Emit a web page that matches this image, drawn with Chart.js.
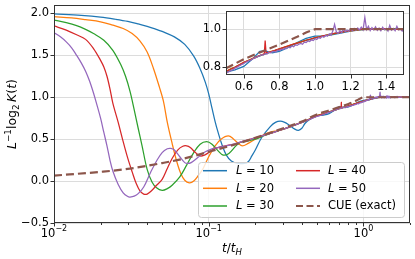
<!DOCTYPE html>
<html>
<head>
<meta charset="utf-8">
<script src="https://cdn.jsdelivr.net/npm/chart.js@4.4.1/dist/chart.umd.min.js"></script>
<style>
html,body{margin:0;padding:0;background:#fff;}
#wrap{position:relative;width:415px;height:259px;}
#main{position:absolute;left:0;top:0;}
#inset{position:absolute;left:190px;top:0;}
</style>
</head>
<body>
<div id="wrap">
<canvas id="main" width="415" height="259"></canvas>
<canvas id="inset" width="225" height="100"></canvas>
</div>
<script>
// ---------- data: [t/t_H, L^-1 log2 K(t)] ----------
const L10 = [
[0.01,1.993],[0.015,1.975],[0.02,1.955],[0.025,1.93],[0.03,1.905],[0.035,1.875],[0.04,1.845],[0.045,1.815],
[0.05,1.785],[0.06,1.72],[0.07,1.63],[0.08,1.49],[0.088,1.34],[0.095,1.18],[0.1,1.04],[0.105,0.87],
[0.11,0.71],[0.115,0.58],[0.122,0.43],[0.13,0.31],[0.14,0.24],[0.155,0.21],[0.17,0.21],[0.18,0.23],
[0.19,0.30],[0.2,0.37],[0.22,0.52],[0.25,0.65],[0.27,0.70],[0.29,0.715],[0.31,0.70],[0.33,0.67],
[0.36,0.62],[0.38,0.605],[0.40,0.63],[0.42,0.69],[0.45,0.735],[0.5,0.775],[0.55,0.787],[0.6,0.805],
[0.65,0.845],[0.69,0.884],[0.72,0.886],[0.76,0.876],[0.8,0.884],[0.85,0.904],[0.9,0.93],[0.95,0.952],
[1.0,0.963],[1.05,0.965],[1.1,0.971],[1.15,0.981],[1.2,0.99],[1.25,0.996],[1.3,1.0],[1.4,1.001],
[1.5,1.0],[2.0,1.0]
];
const L20 = [
[0.01,1.96],[0.013,1.945],[0.016,1.925],[0.02,1.90],[0.024,1.86],[0.028,1.82],[0.032,1.76],[0.036,1.67],
[0.04,1.54],[0.044,1.34],[0.048,1.12],[0.051,0.95],[0.054,0.70],[0.058,0.45],[0.062,0.24],[0.066,0.09],
[0.07,0.01],[0.075,-0.02],[0.08,0.00],[0.086,0.07],[0.092,0.15],[0.1,0.29],[0.11,0.42],[0.12,0.50],
[0.134,0.54],[0.145,0.50],[0.155,0.45],[0.165,0.42],[0.18,0.45],[0.2,0.50],[0.22,0.54],[0.25,0.585],
[0.28,0.60],[0.3,0.615],[0.35,0.66],[0.4,0.70],[0.45,0.74],[0.5,0.778],
[0.525,0.792],[0.55,0.802],[0.575,0.814],[0.6,0.826],[0.625,0.836],[0.65,0.847],[0.675,0.856],[0.7,0.866],
[0.725,0.874],[0.75,0.882],[0.775,0.889],[0.8,0.897],[0.825,0.905],[0.85,0.912],[0.875,0.92],[0.9,0.928],
[0.925,0.935],[0.95,0.942],[0.975,0.948],[1.0,0.955],[1.025,0.96],[1.05,0.965],[1.075,0.97],[1.1,0.975],
[1.125,0.979],[1.15,0.984],[1.175,0.988],[1.2,0.991],[1.225,0.994],[1.25,0.997],[1.275,0.999],[1.3,1.0],
[1.35,1.001],[1.4,0.999],[1.45,1.001],[1.5,1.0],[1.75,1.0],[2.0,1.0]
];
const L30 = [
[0.01,1.92],[0.012,1.89],[0.014,1.855],[0.016,1.81],[0.018,1.76],[0.021,1.68],[0.024,1.56],[0.027,1.39],
[0.029,1.25],[0.031,1.07],[0.033,0.85],[0.035,0.63],[0.037,0.43],[0.04,0.14],[0.043,-0.01],[0.046,-0.08],
[0.05,-0.11],[0.054,-0.09],[0.058,-0.05],[0.065,0.05],[0.072,0.19],[0.08,0.34],[0.088,0.44],[0.097,0.47],
[0.105,0.44],[0.115,0.36],[0.124,0.31],[0.135,0.33],[0.15,0.42],[0.16,0.46],[0.18,0.48],[0.2,0.50],
[0.22,0.53],[0.25,0.57],[0.3,0.615],[0.35,0.66],[0.4,0.70],[0.45,0.74],[0.5,0.777],
[0.525,0.79],[0.55,0.80],[0.575,0.812],[0.6,0.824],[0.625,0.835],[0.65,0.845],[0.675,0.855],[0.7,0.864],
[0.725,0.872],[0.75,0.88],[0.775,0.888],[0.8,0.896],[0.825,0.904],[0.85,0.911],[0.875,0.919],[0.9,0.927],
[0.925,0.934],[0.95,0.941],[0.975,0.947],[1.0,0.954],[1.025,0.96],[1.05,0.965],[1.075,0.97],[1.1,0.975],
[1.125,0.98],[1.15,0.985],[1.175,0.989],[1.2,0.992],[1.25,0.997],[1.3,1.0],[1.35,1.002],[1.4,0.998],
[1.45,1.003],[1.5,1.0],[2.0,1.0]
];
const L40 = [
[0.01,1.85],[0.012,1.80],[0.014,1.745],[0.016,1.69],[0.018,1.58],[0.02,1.44],[0.021,1.36],[0.022,1.25],
[0.023,1.10],[0.024,0.93],[0.026,0.70],[0.028,0.47],[0.03,0.27],[0.032,0.11],[0.034,-0.03],[0.036,-0.12],
[0.038,-0.155],[0.04,-0.155],[0.043,-0.11],[0.046,-0.05],[0.05,0.02],[0.054,0.15],[0.058,0.27],[0.063,0.37],
[0.068,0.415],[0.072,0.42],[0.076,0.40],[0.082,0.34],[0.088,0.30],[0.094,0.31],[0.1,0.34],[0.11,0.39],
[0.12,0.41],[0.135,0.43],[0.15,0.445],[0.17,0.48],[0.2,0.515],[0.25,0.57],[0.3,0.615],[0.35,0.66],
[0.4,0.70],[0.45,0.74],[0.5,0.778],
[0.525,0.79],[0.55,0.80],[0.575,0.813],[0.6,0.826],[0.625,0.836],[0.65,0.846],[0.675,0.856],[0.7,0.866],
[0.715,0.87],[0.72,0.94],[0.725,0.875],[0.75,0.881],[0.775,0.889],[0.8,0.897],[0.825,0.905],[0.85,0.912],
[0.875,0.92],[0.9,0.927],[0.925,0.934],[0.95,0.942],[0.975,0.948],[1.0,0.955],[1.025,0.96],[1.05,0.966],
[1.075,0.97],[1.1,0.976],[1.125,0.98],[1.15,0.985],[1.175,0.99],[1.2,0.992],[1.225,0.996],[1.25,0.998],
[1.275,1.0],[1.3,1.002],[1.35,1.0],[1.4,1.003],[1.45,0.999],[1.5,1.001],[1.75,1.0],[2.0,1.0]
];
const L50 = [
[0.01,1.77],[0.011,1.72],[0.012,1.66],[0.013,1.59],[0.014,1.50],[0.015,1.41],[0.016,1.31],[0.017,1.19],
[0.018,1.05],[0.019,0.90],[0.02,0.75],[0.021,0.58],[0.022,0.42],[0.023,0.25],[0.024,0.12],[0.026,-0.04],
[0.028,-0.14],[0.03,-0.185],[0.031,-0.19],[0.033,-0.18],[0.035,-0.15],[0.038,-0.07],[0.042,0.10],[0.046,0.24],
[0.05,0.34],[0.054,0.385],[0.057,0.39],[0.06,0.37],[0.065,0.29],[0.07,0.22],[0.073,0.21],[0.077,0.22],
[0.085,0.28],[0.095,0.35],[0.105,0.385],[0.115,0.40],[0.13,0.42],[0.15,0.45],[0.17,0.48],[0.2,0.515],
[0.25,0.57],[0.3,0.615],[0.35,0.66],[0.4,0.70],[0.45,0.737],
[0.50,0.770],[0.51,0.775],[0.52,0.779],[0.53,0.785],[0.54,0.788],[0.55,0.796],[0.56,0.800],[0.57,0.806],
[0.58,0.810],[0.59,0.816],[0.60,0.820],[0.61,0.827],[0.62,0.830],[0.63,0.836],[0.64,0.838],[0.65,0.845],
[0.66,0.848],[0.67,0.852],[0.68,0.858],[0.69,0.860],[0.70,0.866],[0.71,0.864],[0.72,0.872],[0.73,0.870],
[0.74,0.878],[0.75,0.876],[0.76,0.882],[0.77,0.884],[0.78,0.880],[0.79,0.890],[0.80,0.888],[0.81,0.895],
[0.82,0.893],[0.83,0.900],[0.84,0.898],[0.85,0.906],[0.86,0.903],[0.87,0.912],[0.88,0.908],[0.89,0.918],
[0.90,0.915],[0.91,0.922],[0.92,0.925],[0.93,0.921],[0.94,0.932],[0.95,0.930],[0.96,0.938],[0.97,0.935],
[0.98,0.944],[0.99,0.940],[1.00,0.950],[1.01,0.946],[1.02,0.956],[1.03,0.952],[1.04,0.962],[1.05,0.958],
[1.06,0.968],[1.07,0.963],[1.08,0.975],[1.09,0.968],[1.10,0.990],[1.11,1.025],[1.12,0.985],[1.13,0.978],
[1.14,0.992],[1.15,0.982],[1.16,1.000],[1.17,0.986],[1.18,0.995],[1.19,0.988],[1.20,1.002],[1.21,0.992],
[1.22,1.004],[1.23,0.994],[1.24,1.006],[1.25,0.996],[1.26,1.010],[1.27,0.996],[1.28,1.062],[1.29,0.998],
[1.30,1.015],[1.31,0.992],[1.32,1.008],[1.33,0.996],[1.34,1.012],[1.35,0.994],[1.36,1.006],[1.37,0.992],
[1.38,1.010],[1.39,0.996],[1.40,1.004],[1.41,0.990],[1.42,1.020],[1.43,0.995],[1.44,1.004],[1.45,0.992],
[1.46,1.015],[1.47,0.996],[1.48,1.002],[1.49,0.990],[1.50,0.998],[1.55,1.005],[1.6,0.995],[1.65,1.01],
[1.7,0.998],[1.75,1.004],[1.8,0.996],[1.85,1.008],[1.9,0.998],[1.95,1.003],[2.0,1.0]
];
const CUE = [
[0.01,0.065],[0.02,0.11],[0.03,0.145],[0.05,0.215],[0.07,0.27],[0.1,0.35],[0.15,0.44],[0.2,0.515],
[0.3,0.627],[0.4,0.71],[0.5,0.795],[0.6,0.843],[0.7,0.882],[0.8,0.92],[0.9,0.96],[0.95,0.982],
[1.0,1.0],[1.5,1.0],[2.0,1.0]
];
const seriesNames = ['L = 10','L = 20','L = 30','L = 40','L = 50','CUE (exact)'];
const seriesColors = ['#1f77b4','#ff7f0e','#2ca02c','#d62728','#9467bd','#8c564b'];
const yTicks = [-0.5, 0, 0.5, 1.0, 1.5, 2.0];
const xMajorTicks = [0.01, 0.1, 1];
const xMajorExp = ['\u22122', '\u22121', '0'];
const xMinorTicks = [0.02,0.03,0.04,0.05,0.06,0.07,0.08,0.09,0.2,0.3,0.4,0.5,0.6,0.7,0.8,0.9,2];
const insetXTicks = [0.6, 0.8, 1.0, 1.2, 1.4];
const insetYTicks = [0.8, 1.0];

const FONT = "'DejaVu Sans', sans-serif";
const allSeries = [L10, L20, L30, L40, L50, CUE];

function makeDatasets(inset) {
  return allSeries.map((s, i) => {
    const isCue = i === 5;
    return {
      label: seriesNames[i],
      data: s.map(p => ({x: p[0], y: p[1]})),
      borderColor: seriesColors[i],
      borderWidth: isCue ? 2.2 : 1.25,
      borderDash: isCue ? [8, 4] : [],
      pointRadius: 0,
      fill: false,
      cubicInterpolationMode: (inset || !isCue) ? 'default' : 'monotone',
      tension: inset ? 0 : 0.35,
      order: 5 - i
    };
  });
}
function zeroPad(s) { s.paddingTop = 0; s.paddingBottom = 0; s.paddingLeft = 0; s.paddingRight = 0; }

const fmt = v => (v < 0 ? '\u2212' : '') + Math.abs(v).toFixed(1);

// ---------- main chart ----------
const mainPlugin = {
  id: 'mainDecor',
  beforeDraw(chart) {
    const c = chart.ctx; c.save(); c.fillStyle = '#fff'; c.fillRect(0, 0, chart.width, chart.height); c.restore();
  },
  afterDraw(chart) {
    const c = chart.ctx, a = chart.chartArea, xs = chart.scales.x, ys = chart.scales.y;
    c.save();
    // frame
    c.strokeStyle = '#333'; c.lineWidth = 1;
    c.strokeRect(Math.round(a.left) + 0.5, Math.round(a.top) + 0.5, Math.round(a.right - a.left) - 1, Math.round(a.bottom - a.top) - 1);
    // ticks
    c.beginPath();
    xMajorTicks.forEach(t => { const px = Math.round(xs.getPixelForValue(t)) + 0.5; c.moveTo(px, a.bottom); c.lineTo(px, a.bottom + 3.5); });
    xMinorTicks.forEach(t => { const px = Math.round(xs.getPixelForValue(t)) + 0.5; c.moveTo(px, a.bottom); c.lineTo(px, a.bottom + 2); });
    yTicks.forEach(t => { const py = Math.round(ys.getPixelForValue(t)) + 0.5; c.moveTo(a.left, py); c.lineTo(a.left - 3.5, py); });
    c.stroke();
    // x tick labels 10^n
    c.fillStyle = '#000'; c.textBaseline = 'alphabetic';
    xMajorTicks.forEach((t, i) => {
      const px = xs.getPixelForValue(t);
      c.font = '11.5px ' + FONT; const wb = c.measureText('10').width;
      c.font = '8px ' + FONT; const we = c.measureText(xMajorExp[i]).width;
      const x0 = px - (wb + we) / 2;
      c.font = '11.5px ' + FONT; c.textAlign = 'left'; c.fillText('10', x0, 237);
      c.font = '8px ' + FONT; c.fillText(xMajorExp[i], x0 + wb, 231);
    });
    // x title t/t_H
    {
      const segs = [['t', 'italic 12px', 0], ['/', '12px', 0], ['t', 'italic 12px', 0], ['H', 'italic 8.5px', 2.5]];
      let w = 0; segs.forEach(s => { c.font = s[1] + ' ' + FONT; w += c.measureText(s[0]).width; });
      let x = (a.left + a.right) / 2 - w / 2;
      segs.forEach(s => { c.font = s[1] + ' ' + FONT; c.textAlign = 'left'; c.fillText(s[0], x, 252 + s[2]); x += c.measureText(s[0]).width; });
    }
    // y title L^-1 log2 K(t)
    {
      const segs = [['L', 'italic 12.5px', 0], ['\u22121', '8.8px', -5], ['log', '12.5px', 0], ['2', '8.8px', 2.5], ['\u2009', '12.5px', 0], ['K', 'italic 12.5px', 0], ['(', '12.5px', 0], ['t', 'italic 12.5px', 0], [')', '12.5px', 0]];
      let w = 0; segs.forEach(s => { c.font = s[1] + ' ' + FONT; w += c.measureText(s[0]).width; });
      c.translate(16, (a.top + a.bottom) / 2);
      c.rotate(-Math.PI / 2);
      let x = -w / 2;
      segs.forEach(s => { c.font = s[1] + ' ' + FONT; c.textAlign = 'left'; c.fillText(s[0], x, s[2]); x += c.measureText(s[0]).width; });
      c.setTransform(1, 0, 0, 1, 0, 0);
    }
    // legend
    {
      const bx = 198.5, by = 162.5, bw = 206, bh = 55, r = 3;
      c.beginPath();
      c.moveTo(bx + r, by); c.lineTo(bx + bw - r, by); c.arcTo(bx + bw, by, bx + bw, by + r, r);
      c.lineTo(bx + bw, by + bh - r); c.arcTo(bx + bw, by + bh, bx + bw - r, by + bh, r);
      c.lineTo(bx + r, by + bh); c.arcTo(bx, by + bh, bx, by + bh - r, r);
      c.lineTo(bx, by + r); c.arcTo(bx, by, bx + r, by, r); c.closePath();
      c.fillStyle = 'rgba(255,255,255,0.8)'; c.fill();
      c.strokeStyle = '#cccccc'; c.lineWidth = 1; c.stroke();
      const rows = [170.7, 188.3, 206];
      const cols = [[203, 227, 236], [296, 320, 328]];
      for (let i = 0; i < 6; i++) {
        const col = cols[Math.floor(i / 3)], y = rows[i % 3];
        c.beginPath(); c.strokeStyle = seriesColors[i];
        if (i === 5) { c.lineWidth = 2.2; c.setLineDash([7, 3.5]); } else { c.lineWidth = 1.5; c.setLineDash([]); }
        c.moveTo(col[0], y); c.lineTo(col[1], y); c.stroke(); c.setLineDash([]);
        c.fillStyle = '#000'; c.textAlign = 'left'; c.textBaseline = 'middle';
        if (i < 5) {
          c.font = 'italic 11.5px ' + FONT; c.fillText('L', col[2], y + 0.5);
          const wl = c.measureText('L').width;
          c.font = '11.5px ' + FONT; c.fillText(' = ' + seriesNames[i].split('= ')[1], col[2] + wl, y + 0.5);
        } else {
          c.font = '11.5px ' + FONT; c.fillText('CUE (exact)', col[2], y + 0.5);
        }
      }
    }
    c.restore();
  }
};

new Chart(document.getElementById('main'), {
  type: 'line',
  data: { datasets: makeDatasets(false) },
  options: {
    responsive: false, animation: false, devicePixelRatio: 1,
    layout: { padding: { left: 0, top: 5, right: 5, bottom: 0 } },
    plugins: { legend: { display: false }, tooltip: { enabled: false } },
    scales: {
      x: {
        type: 'logarithmic', min: 0.01, max: 2,
        afterBuildTicks(s) { s.ticks = xMajorTicks.map(v => ({ value: v })); },
        afterFit(s) { s.height = 36; zeroPad(s); },
        ticks: { display: false },
        grid: { color: '#dcdcdc', lineWidth: 1, drawTicks: false },
        border: { display: false }
      },
      y: {
        type: 'linear', min: -0.5, max: 2.1,
        afterBuildTicks(s) { s.ticks = yTicks.map(v => ({ value: v })); },
        afterFit(s) { s.width = 54; zeroPad(s); },
        ticks: { callback: v => fmt(v), font: { family: FONT, size: 11.5 }, color: '#000', padding: 5 },
        grid: { color: '#dcdcdc', lineWidth: 1, drawTicks: false },
        border: { display: false }
      }
    }
  },
  plugins: [mainPlugin]
});

// ---------- inset ----------
const insetPlugin = {
  id: 'insetDecor',
  beforeDraw(chart) {
    const c = chart.ctx, a = chart.chartArea;
    c.save(); c.fillStyle = '#fff'; c.fillRect(a.left, a.top, a.right - a.left, a.bottom - a.top); c.restore();
  },
  afterDraw(chart) {
    const c = chart.ctx, a = chart.chartArea, xs = chart.scales.x, ys = chart.scales.y;
    c.save();
    c.strokeStyle = '#333'; c.lineWidth = 1;
    c.strokeRect(Math.round(a.left) + 0.5, Math.round(a.top) + 0.5, Math.round(a.right - a.left) - 1, Math.round(a.bottom - a.top) - 1);
    c.beginPath();
    insetXTicks.forEach(t => { const px = Math.round(xs.getPixelForValue(t)) + 0.5; c.moveTo(px, a.bottom); c.lineTo(px, a.bottom + 3.5); });
    insetYTicks.forEach(t => { const py = Math.round(ys.getPixelForValue(t)) + 0.5; c.moveTo(a.left, py); c.lineTo(a.left - 3.5, py); });
    c.stroke();
    c.restore();
  }
};

new Chart(document.getElementById('inset'), {
  type: 'line',
  data: { datasets: makeDatasets(true) },
  options: {
    responsive: false, animation: false, devicePixelRatio: 1,
    layout: { padding: { left: 0, top: 11, right: 11, bottom: 0 } },
    plugins: { legend: { display: false }, tooltip: { enabled: false } },
    scales: {
      x: {
        type: 'linear', min: 0.5, max: 1.5,
        afterBuildTicks(s) { s.ticks = insetXTicks.map(v => ({ value: v })); },
        afterFit(s) { s.height = 25; zeroPad(s); },
        ticks: { callback: v => fmt(v), font: { family: FONT, size: 11.5 }, color: '#000', padding: 5, maxRotation: 0, autoSkip: false },
        grid: { color: '#dcdcdc', lineWidth: 1, drawTicks: false },
        border: { display: false }
      },
      y: {
        type: 'linear', min: 0.76, max: 1.095,
        afterBuildTicks(s) { s.ticks = insetYTicks.map(v => ({ value: v })); },
        afterFit(s) { s.width = 36; zeroPad(s); },
        ticks: { callback: v => fmt(v), font: { family: FONT, size: 11.5 }, color: '#000', padding: 5 },
        grid: { color: '#dcdcdc', lineWidth: 1, drawTicks: false },
        border: { display: false }
      }
    }
  },
  plugins: [insetPlugin]
});
</script>
</body>
</html>
